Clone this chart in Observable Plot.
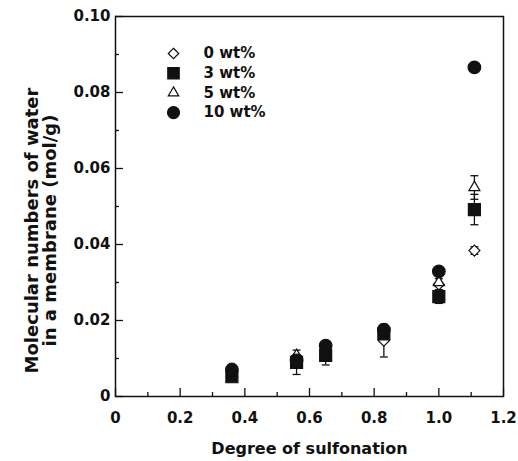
<!DOCTYPE html>
<html>
<head>
<meta charset="utf-8">
<script src="https://cdn.jsdelivr.net/npm/d3@7"></script>
<script src="https://cdn.jsdelivr.net/npm/@observablehq/plot@0.6"></script>
<style>
  html, body { margin: 0; padding: 0; background: #fff; }
  #chart { width: 518px; height: 461px; }
</style>
</head>
<body>
<div id="chart"></div>
<script>
// ---- data ----
const sulfonation = [0.36, 0.56, 0.65, 0.83, 1.00, 1.11];
const water0  = [0.0062, 0.0105, 0.0125, 0.0147, 0.0295, 0.0384];
const err0    = [0, 0, 0, 0.0043, 0.0015, 0.0010];
const water3  = [0.0052, 0.0090, 0.0108, 0.0165, 0.0263, 0.0492];
const err3    = [0, 0.0032, 0.0025, 0.0010, 0.0018, 0.0040];
const water5  = [0.0062, 0.0108, 0.0125, 0.0160, 0.0300, 0.0550];
const err5    = [0, 0, 0, 0, 0, 0.0031];
const water10 = [0.0071, 0.0095, 0.0134, 0.0176, 0.0329, 0.0866];
const err10   = [0, 0, 0, 0, 0.0010, 0];
const seriesNames = ["0 wt%", "3 wt%", "5 wt%", "10 wt%"];
const xTicks = [0, 0.2, 0.4, 0.6, 0.8, 1.0, 1.2];
const xTickLabels = ["0", "0.2", "0.4", "0.6", "0.8", "1.0", "1.2"];
const xMinor = [0.1, 0.3, 0.5, 0.7, 0.9, 1.1];
const yTicks = [0, 0.02, 0.04, 0.06, 0.08, 0.10];
const yTickLabels = ["0", "0.02", "0.04", "0.06", "0.08", "0.10"];
const yMinor = [0.01, 0.03, 0.05, 0.07, 0.09];
const xTitle = "Degree of sulfonation";
const yTitle = "Molecular numbers of water\nin a membrane (mol/g)";

// ---- custom symbols (r = half extent) ----
const half = s => Math.sqrt(s / Math.PI);
const symDiamond = {draw(c, s) { const r = half(s); c.moveTo(0, -r); c.lineTo(r, 0); c.lineTo(0, r); c.lineTo(-r, 0); c.closePath(); }};
const symSquare = {draw(c, s) { const r = half(s); c.rect(-r, -r, 2 * r, 2 * r); }};
const symTriangle = {draw(c, s) { const r = half(s); c.moveTo(0, -1.155 * r); c.lineTo(r, 0.577 * r); c.lineTo(-r, 0.577 * r); c.closePath(); }};
const symCircle = {draw(c, s) { const r = half(s); c.moveTo(r, 0); c.arc(0, 0, r, 0, 2 * Math.PI); }};
const symCap = {draw(c, s) { const r = half(s); c.moveTo(-r, 0); c.lineTo(r, 0); }};

const ink = "#111";
const series = [
  {name: seriesNames[0], y: water0,  e: err0,  symbol: symDiamond,  r: 5.5, fill: "white"},
  {name: seriesNames[1], y: water3,  e: err3,  symbol: symSquare,   r: 6,   fill: ink},
  {name: seriesNames[2], y: water5,  e: err5,  symbol: symTriangle, r: 5.5, fill: "white"},
  {name: seriesNames[3], y: water10, e: err10, symbol: symCircle,   r: 6.3, fill: ink}
];
const rows = s => sulfonation.map((x, i) => ({x, y: s.y[i], lo: s.y[i] - s.e[i], hi: s.y[i] + s.e[i], e: s.e[i]}));

// draw order: hollow first, filled on top
const drawOrder = [series[0], series[2], series[1], series[3]];
const marks = [];
for (const s of drawOrder) {
  const d = rows(s).filter(r => r.e > 0);
  marks.push(Plot.ruleX(d, {x: "x", y1: "lo", y2: "hi", stroke: ink, strokeWidth: 1.3}));
  marks.push(Plot.dot(d, {x: "x", y: "lo", symbol: symCap, r: 4, stroke: ink, strokeWidth: 1.3}));
  marks.push(Plot.dot(d, {x: "x", y: "hi", symbol: symCap, r: 4, stroke: ink, strokeWidth: 1.3}));
}
for (const s of drawOrder) {
  marks.push(Plot.dot(rows(s), {x: "x", y: "y", symbol: s.symbol, r: s.r, fill: s.fill, stroke: ink, strokeWidth: 1.2}));
}
// legend
series.forEach((s, i) => {
  marks.push(Plot.dot([s.name], {frameAnchor: "top-left", dx: 58, dy: 37 + 19.7 * i, symbol: s.symbol, r: s.r * 0.95, fill: s.fill, stroke: ink, strokeWidth: 1.2}));
  marks.push(Plot.text([s.name], {frameAnchor: "top-left", dx: 88, dy: 37 + 19.7 * i, text: d => d, textAnchor: "start", lineAnchor: "middle", fill: ink, fontSize: 15, fontWeight: "bold"}));
});

const chart = Plot.plot({
  width: 518,
  height: 461,
  marginLeft: 115,
  marginRight: 15,
  marginTop: 16,
  marginBottom: 65,
  style: {fontFamily: "'DejaVu Sans', sans-serif", fontWeight: "bold", fontSize: "15px", color: ink, background: "white"},
  x: {domain: [0, 1.2]},
  y: {domain: [0, 0.1]},
  marks: [
    Plot.frame({stroke: ink, strokeWidth: 1.5}),
    Plot.axisX({ticks: xTicks, tickSize: 0, tickPadding: 16, tickFormat: (d, i) => xTickLabels[i], label: null, fontSize: 15, fontWeight: "bold"}),
    Plot.axisX({ticks: xTicks, tickSize: -8, tickFormat: () => "", label: null, stroke: ink, strokeWidth: 1.3}),
    Plot.axisX({ticks: xMinor, tickSize: -4, tickFormat: () => "", label: null, stroke: ink, strokeWidth: 1.3}),
    Plot.axisY({ticks: yTicks, tickSize: 0, tickPadding: 5, tickFormat: (d, i) => yTickLabels[i], label: null, fontSize: 15, fontWeight: "bold"}),
    Plot.axisY({ticks: yTicks, tickSize: -8, tickFormat: () => "", label: null, stroke: ink, strokeWidth: 1.3}),
    Plot.axisY({ticks: yMinor, tickSize: -4, tickFormat: () => "", label: null, stroke: ink, strokeWidth: 1.3}),
    Plot.text([xTitle], {frameAnchor: "bottom", dy: 57, text: d => d, fontSize: 16, fontWeight: "bold", fill: ink}),
    Plot.text([yTitle], {frameAnchor: "left", dx: -74, dy: 24, rotate: -90, textAnchor: "middle", lineAnchor: "middle", text: d => d, fontSize: 18, fontWeight: "bold", fill: ink, lineHeight: 0.95}),
    ...marks
  ]
});
document.getElementById("chart").appendChild(chart);
</script>
</body>
</html>
